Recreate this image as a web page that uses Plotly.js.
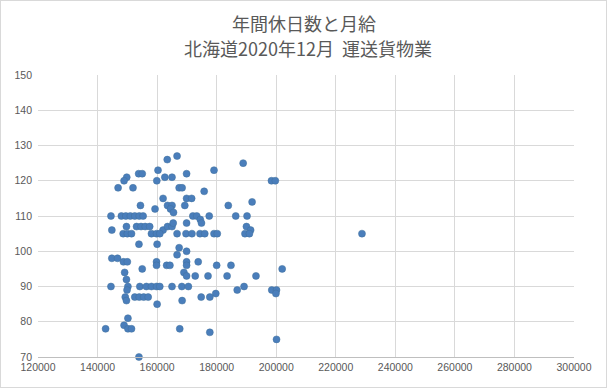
<!DOCTYPE html>
<html><head><meta charset="utf-8">
<script src="https://cdn.plot.ly/plotly-3.0.1.min.js"></script>
<style>
html,body{margin:0;padding:0;background:#fff;}
#chart{width:605px;height:386px;border:1px solid #d9d9d9;}
</style></head>
<body><div id="chart"></div>
<script>
const titleLine1 = "年間休日数と月給";
const titleLine2 = "北海道2020年12月  運送貨物業";
// 月給 (monthly salary, yen)
const salary = [
  163400,166700,188900,179100,160300,169900,153800,155000,149800,148900,
  162600,165000,159900,146900,151900,167400,168400,175800,162000,169900,
  171600,198400,199700,191900,183900,154400,159300,163500,165000,164500,
  165500,169300,144500,148000,149500,151000,152500,154000,155300,172000,
  173300,174500,177500,186400,190200,162000,163500,165000,165400,169900,
  174900,149700,153100,154600,156000,157500,144800,190000,191400,148600,
  150000,151400,158100,159800,160900,166700,169700,171700,174400,176000,
  179100,180200,189500,191000,228800,153900,160000,167400,169900,166700,
  144800,146700,148700,150000,159800,169900,173800,159800,163200,164300,
  169900,180000,184800,155000,202000,149100,169000,169900,172800,177100,
  183500,193200,149700,150200,149900,144500,154200,156400,158100,159800,
  160900,165000,168300,170500,189200,186900,198500,200100,179700,199900,
  149300,149700,152500,154000,155500,157000,174800,177700,168400,160000,
  150200,148900,142700,150200,151400,167600,177700,200100,153900
];
// 年間休日数 (annual holidays, days)
const holidays = [
  126,127,125,123,123,122,122,122,121,120,
  121,121,120,118,118,118,118,117,115,115,
  115,120,120,114,113,113,112,113,113,112,
  111,113,110,110,110,110,110,110,110,110,
  110,109,110,110,110,106,107,107,108,108,
  108,107,107,107,107,107,106,107,106,105,
  105,105,105,105,105,105,105,105,105,105,
  105,105,105,105,105,102,102,101,100,99,
  98,98,97,97,97,97,97,96,96,96,
  96,96,96,95,95,94,94,93,93,93,
  93,93,92,90,89,90,90,90,90,90,
  90,90,90,90,90,89,89,89,88,88,
  87,86,87,87,87,87,87,87,86,85,
  81,79,78,78,78,78,77,75,70
];
const xTicks = [120000,140000,160000,180000,200000,220000,240000,260000,280000,300000];
const yTicks = [70,80,90,100,110,120,130,140,150];

const trace = {
  x: salary, y: holidays, type: 'scatter', mode: 'markers',
  marker: {color: '#4a7ebb', size: 7, line: {width: 0.5, color: '#41719c'}},
  cliponaxis: false, hoverinfo: 'x+y'
};
const fontFam = '"Liberation Sans", Arial, sans-serif';
const titleFont = {family: '"Noto Sans CJK JP", sans-serif', size: 18, color: '#595959'};
const layout = {
  width: 605, height: 386,
  margin: {l: 37, r: 32, t: 74, b: 30},
  paper_bgcolor: '#ffffff', plot_bgcolor: '#ffffff',
  showlegend: false,
  annotations: [
    {text: titleLine1, xref: 'paper', yref: 'paper', x: 0.496, y: 1.183,
     xanchor: 'center', yanchor: 'middle', showarrow: false, font: titleFont},
    {text: titleLine2, xref: 'paper', yref: 'paper', x: 0.503, y: 1.094,
     xanchor: 'center', yanchor: 'middle', showarrow: false, font: titleFont}
  ],
  xaxis: {range: [120000, 300000], tickvals: xTicks, ticktext: xTicks.map(String),
    showgrid: true, gridcolor: '#d9d9d9', gridwidth: 1,
    showline: true, linecolor: '#bfbfbf', linewidth: 1, zeroline: false,
    ticks: '', ticklen: 0,
    tickfont: {family: fontFam, size: 10.5, color: '#595959'}},
  yaxis: {range: [70, 150], tickvals: yTicks, ticktext: yTicks.map(String),
    showgrid: true, gridcolor: '#d9d9d9', gridwidth: 1,
    showline: false, zeroline: false, ticks: '', ticklabelstandoff: 5,
    tickfont: {family: fontFam, size: 10.5, color: '#595959'}}
};
Plotly.newPlot('chart', [trace], layout, {displayModeBar: false, staticPlot: true});
</script></body></html>
